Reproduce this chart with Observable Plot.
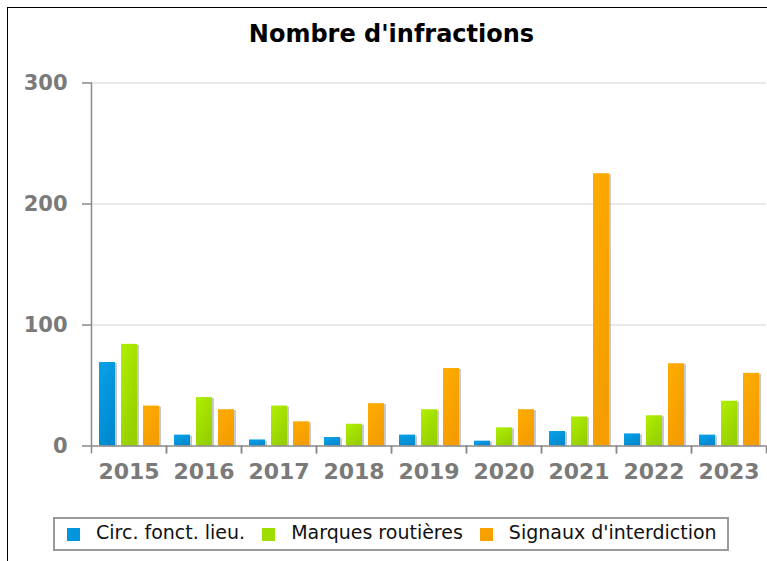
<!DOCTYPE html>
<html>
<head>
<meta charset="utf-8">
<script src="https://cdn.jsdelivr.net/npm/d3@7"></script>
<script src="https://cdn.jsdelivr.net/npm/@observablehq/plot@0.6"></script>
<style>
html,body{margin:0;padding:0;background:#fff;width:767px;height:561px;overflow:hidden;font-family:"DejaVu Sans",sans-serif;}
#frameL{position:absolute;left:7px;top:7px;width:1px;height:554px;background:#000;}
#frameT{position:absolute;left:7px;top:7px;width:760px;height:1px;background:#000;}
#chart{position:absolute;left:0;top:0;}
#title{position:absolute;left:16px;width:751px;top:22px;text-align:center;font-weight:bold;font-size:24px;line-height:24px;color:#000;}
#legend{position:absolute;left:53px;top:517px;width:676px;height:34px;box-sizing:border-box;border:2px solid #9a9a9a;display:flex;align-items:center;padding-left:12px;font-size:19px;color:#111;background:#fff;}
#legend .sw{width:13px;height:13px;margin-right:16px;flex:none;}
#legend .lb{margin-right:17px;position:relative;top:-2px;white-space:nowrap;}
</style>
</head>
<body>
<div id="chart"></div>
<div id="frameL"></div>
<div id="frameT"></div>
<div id="title"></div>
<div id="legend"></div>
<script>
// ---- data ----
const title = "Nombre d'infractions";
const years = ["2015", "2016", "2017", "2018", "2019", "2020", "2021", "2022", "2023"];
const series = ["Circ. fonct. lieu.", "Marques routières", "Signaux d'interdiction"];
const circValues = [69, 9, 5, 7, 9, 4, 12, 10, 9];
const marquesValues = [84, 40, 33, 18, 30, 15, 24, 25, 37];
const signauxValues = [33, 30, 20, 35, 64, 30, 225, 68, 60];
const yTicks = [0, 100, 200, 300];
const gridTicks = [100, 200, 300];
const swatchColors = ["#0095dc", "#9fdc00", "#f7a000"];

// ---- table ----
const valueSets = [circValues, marquesValues, signauxValues];
const table = [];
years.forEach((yr, i) => {
  series.forEach((s, j) => table.push({year: yr, series: s, value: valueSets[j][i]}));
});

document.getElementById("title").textContent = title;

const gradIds = ["gBlue", "gGreen", "gOrange"];
const gradStops = [["#0aa2ea", "#0089cf"], ["#b0ef00", "#96d000"], ["#ffad00", "#f49c00"]];

const defs = () => {
  const d = d3.create("svg:defs");
  gradIds.forEach((id, k) => {
    const g = d.append("linearGradient").attr("id", id)
      .attr("x1", 0).attr("y1", 0).attr("x2", 0.6).attr("y2", 1);
    g.append("stop").attr("offset", "0%").attr("stop-color", gradStops[k][0]);
    g.append("stop").attr("offset", "100%").attr("stop-color", gradStops[k][1]);
  });
  return d.node();
};

const axisColor = "#8a8a8a";

const chart = Plot.plot({
  width: 767,
  height: 500,
  marginLeft: 91,
  marginRight: 1,
  marginTop: 82.5,
  marginBottom: 54.5,
  style: {fontFamily: '"DejaVu Sans", sans-serif', background: "transparent", overflow: "visible"},
  fx: {domain: years, padding: 0, label: null},
  x: {domain: series, paddingInner: 0.273, paddingOuter: 0.341, axis: null},
  y: {domain: [0, 300], label: null},
  color: {domain: series, range: gradIds.map(id => `url(#${id})`)},
  marks: [
    defs,
    Plot.ruleY(gridTicks, {stroke: "#e2e2e2", strokeWidth: 1.5}),
    Plot.barY(table, {fx: "year", x: "series", y: "value", fill: "#9a9a9a", fillOpacity: 0.55, dx: 2, dy: 1}),
    Plot.barY(table, {fx: "year", x: "series", y: "value", fill: "series"}),
    Plot.ruleY([0], {stroke: axisColor, strokeWidth: 1.5}),
    Plot.frame({anchor: "left", facetAnchor: "left", stroke: axisColor, strokeWidth: 1.5}),
    Plot.axisY({ticks: yTicks, tickSize: 9, tickPadding: 15, fontSize: 21, fontWeight: "bold", fill: "#7a7a7a", stroke: axisColor, strokeWidth: 1.5, label: null}),
    Plot.axisFx({anchor: "bottom", text: null, tickSize: 8, dx: -37.5, stroke: axisColor, strokeWidth: 1.5, label: null}),
    Plot.axisFx({anchor: "bottom", text: null, tickSize: 8, dx: 37.5, stroke: axisColor, strokeWidth: 1.5, label: null}),
    Plot.axisFx({anchor: "bottom", tickSize: 0, tickPadding: 17, fontSize: 22, fontWeight: "bold", fill: "#7a7a7a", label: null})
  ]
});
document.getElementById("chart").appendChild(chart);

// ---- legend ----
const legend = document.getElementById("legend");
series.forEach((s, j) => {
  const sw = document.createElement("span");
  sw.className = "sw";
  sw.style.background = swatchColors[j];
  const lb = document.createElement("span");
  lb.className = "lb";
  lb.textContent = s;
  legend.appendChild(sw);
  legend.appendChild(lb);
});
</script>
</body>
</html>
